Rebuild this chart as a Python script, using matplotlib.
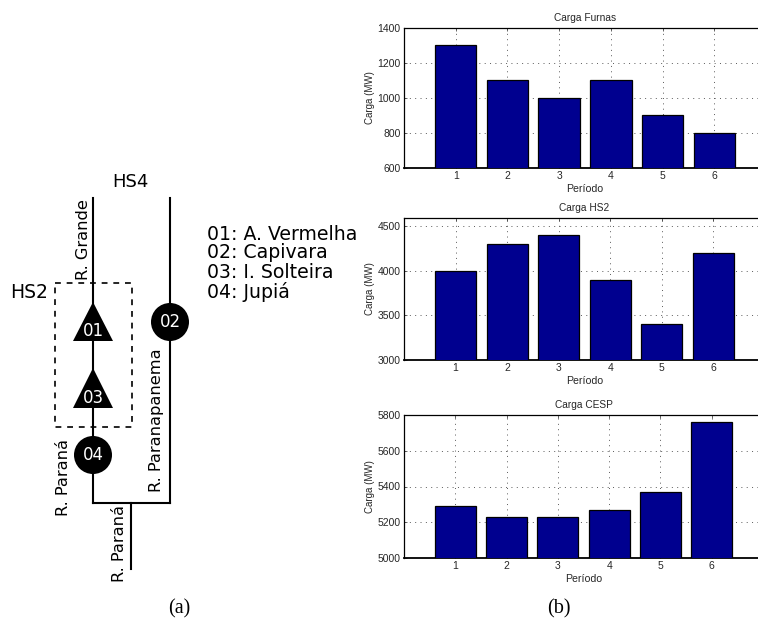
import matplotlib
matplotlib.use("Agg")
import matplotlib.pyplot as plt
from matplotlib.patches import Circle, Polygon, Rectangle

W, H = 758, 621

periods = [1, 2, 3, 4, 5, 6]
carga_furnas = [1300, 1100, 1000, 1100, 900, 800]
carga_hs2 = [4000, 4300, 4400, 3900, 3400, 4200]
carga_cesp = [5290, 5230, 5230, 5270, 5370, 5760]

titles = ["Carga Furnas", "Carga HS2", "Carga CESP"]
ylims = [(600, 1400), (3000, 4590), (5000, 5800)]
yticks = [
    [600, 800, 1000, 1200, 1400],
    [3000, 3500, 4000, 4500],
    [5000, 5200, 5400, 5600, 5800],
]
# axes boxes in pixels: left, right, top, bottom (right runs past the image edge)
boxes = [(404, 766, 28, 168), (404, 765, 218, 360), (404, 763, 415, 558)]

legend_lines = ["01: A. Vermelha", "02: Capivara", "03: I. Solteira", "04: Jupiá"]
legend_y = [234, 253, 272, 292]

rivers = [
    ([93, 93], [198, 503]),
    ([170, 170], [198, 503]),
    ([93, 170], [503, 503]),
    ([131, 131], [503, 569]),
]
river_labels = [
    ("R. Grande", 83, 240),
    ("R. Paranapanema", 157, 420),
    ("R. Paraná", 63, 478),
    ("R. Paraná", 120, 543),
]
triangles = [("01", 302, 341), ("03", 368, 408)]
circles = [("02", 170, 322), ("04", 93, 455)]

plt.rcParams["font.family"] = ["Liberation Sans", "DejaVu Sans"]

fig = plt.figure(figsize=(W / 100, H / 100), dpi=100)

# schematic (a) is drawn on a full-figure axes in pixel coordinates
sk = fig.add_axes([0, 0, 1, 1])
sk.set_xlim(0, W)
sk.set_ylim(H, 0)
sk.axis("off")
dv = dict(family="DejaVu Sans", color="k")

for xs, ys in rivers:
    sk.plot(xs, ys, color="k", lw=1.5, solid_capstyle="projecting")
sk.add_patch(Rectangle((55, 283), 77, 144, fill=False, ec="k", lw=1.2,
                       ls=(0, (3.5, 3.5))))
for name, top, base in triangles:
    sk.add_patch(Polygon([(93, top), (73, base), (113, base)], fc="k", ec="none", zorder=3))
    sk.text(93, base - 10, name, color="w", family="DejaVu Sans", fontsize=12,
            ha="center", va="center", zorder=4)
for name, cx, cy in circles:
    sk.add_patch(Circle((cx, cy), 19, fc="k", ec="none", zorder=3))
    sk.text(cx, cy, name, color="w", family="DejaVu Sans", fontsize=12,
            ha="center", va="center", zorder=4)
for label, x, y in river_labels:
    sk.text(x, y, label, rotation=90, ha="center", va="center", fontsize=11.7, **dv)
sk.text(130, 182, "HS4", ha="center", va="center", fontsize=13, **dv)
sk.text(29, 293, "HS2", ha="center", va="center", fontsize=13.5, **dv)
for line, y in zip(legend_lines, legend_y):
    sk.text(207, y, line, ha="left", va="center", fontsize=13.6, **dv)
sk.text(179, 609, "(a)", family="Liberation Serif", fontsize=14.5, ha="center", va="center")
sk.text(559, 609, "(b)", family="Liberation Serif", fontsize=14.5, ha="center", va="center")

# bar panels (b)
series = [carga_furnas, carga_hs2, carga_cesp]
for values, title, ylim, ticks, box in zip(series, titles, ylims, yticks, boxes):
    left, right, top, bottom = box
    ax = fig.add_axes([left / W, 1 - bottom / H, (right - left) / W, (bottom - top) / H])
    ax.bar(periods, values, width=0.8, color="#00008F", edgecolor="k", lw=0.9, zorder=3)
    ax.set_xlim(0, 7)
    ax.set_ylim(*ylim)
    ax.set_xticks(periods)
    ax.set_yticks(ticks)
    ax.grid(True, color="0.35", ls=(0, (1, 4.5)), lw=0.7, zorder=0)
    ax.set_axisbelow(True)
    ax.tick_params(direction="in", length=2, width=0.5, labelsize=7.5, top=True,
                   right=True, pad=2.5, colors="0.15")
    for spine in ax.spines.values():
        spine.set_linewidth(0.9)
    ax.spines["bottom"].set_linewidth(1.3)
    ax.set_title(title, fontsize=7.3, pad=5, color="0.15")
    ax.set_xlabel("Período", fontsize=7.6, labelpad=1.5, color="0.15")
    ax.set_ylabel("Carga (MW)", fontsize=7.0, labelpad=1.5, color="0.15")

fig.savefig("out.png", dpi=100)
